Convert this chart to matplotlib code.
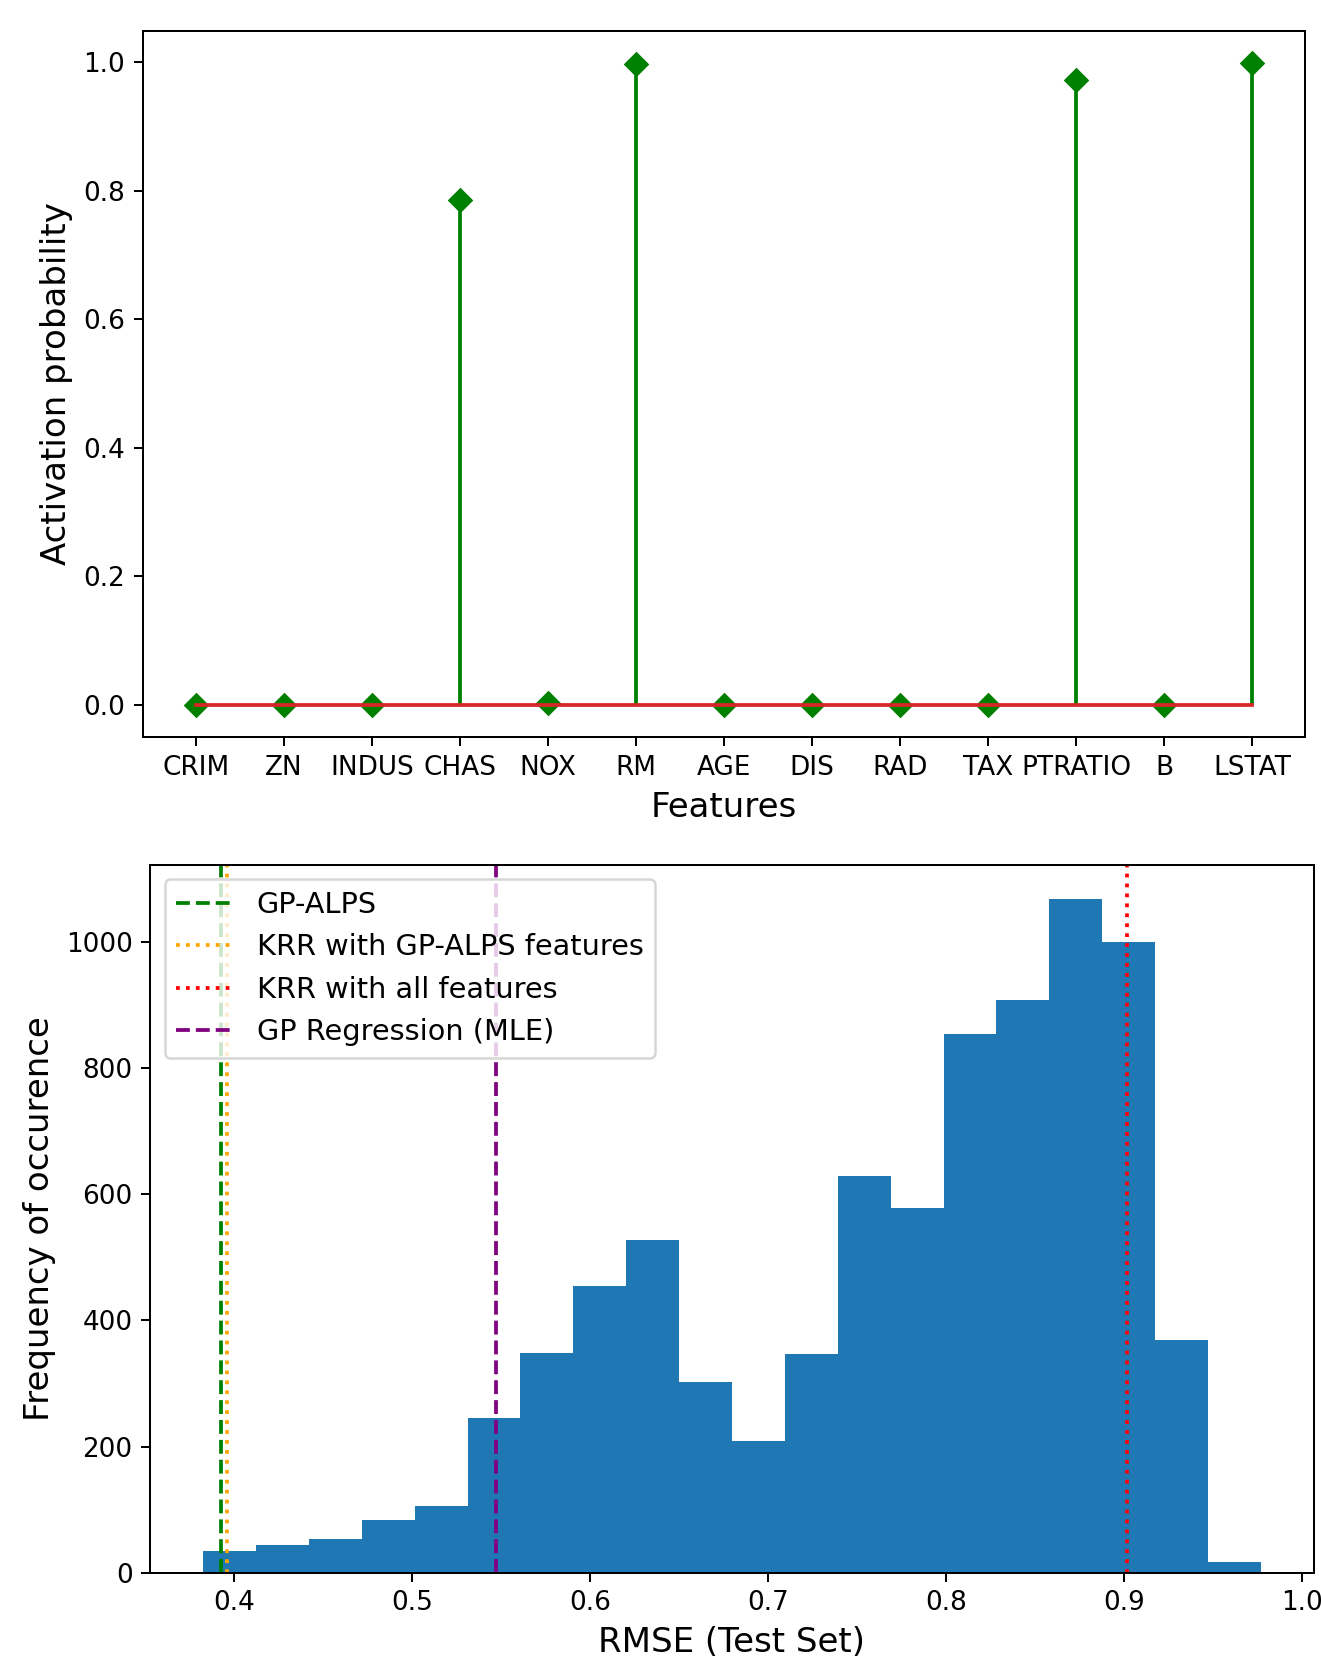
import numpy as np
import matplotlib
matplotlib.use("Agg")
import matplotlib.pyplot as plt

# feature activation probabilities (top panel)
features = ["CRIM", "ZN", "INDUS", "CHAS", "NOX", "RM", "AGE", "DIS",
            "RAD", "TAX", "PTRATIO", "B", "LSTAT"]
activation = [0.0, 0.0, 0.0, 0.785, 0.003, 0.997, 0.0, 0.0,
              0.0, 0.0, 0.973, 0.0, 0.999]

# RMSE histogram (bottom panel)
bin_lo, bin_hi = 0.3828, 0.9768
counts = [34, 44, 53, 84, 106, 245, 348, 454, 528, 302,
          209, 346, 628, 578, 853, 908, 1068, 1000, 368, 17]

# reference RMSE values
rmse_gp_alps = 0.3931
rmse_krr_alps = 0.3963
rmse_krr_all = 0.9016
rmse_gp_mle = 0.5472

W, H, DPI = 1321, 1659, 180
fig = plt.figure(figsize=(W / DPI, H / DPI), dpi=DPI)
plt.rcParams['font.size'] = 10.5
label_size = 13.6

# --- top: stem plot
ax1 = fig.add_axes([0.1081, 0.5557, 0.880, 0.4257])
x = np.arange(len(features))
markerline, stemlines, baseline = ax1.stem(x, activation, linefmt='g-', markerfmt='gD',
                                           basefmt='C3-')
markerline.set_zorder(2)
baseline.set_zorder(3)
ax1.set_xticks(x)
ax1.set_xticklabels(features, fontsize=10.5)
ax1.tick_params(labelsize=10.5)
ax1.set_xlabel("Features", fontsize=label_size)
ax1.set_ylabel("Activation probability", fontsize=label_size)

# --- bottom: histogram
ax2 = fig.add_axes([0.1137, 0.052, 0.8808, 0.4266])
edges = np.linspace(bin_lo, bin_hi, len(counts) + 1)
centers = (edges[:-1] + edges[1:]) / 2
ax2.hist(centers, bins=edges, weights=counts, color='C0')
ax2.axvline(rmse_gp_alps, color='g', linestyle='--', label='GP-ALPS')
ax2.axvline(rmse_krr_alps, color='orange', linestyle=':', label='KRR with GP-ALPS features')
ax2.axvline(rmse_krr_all, color='r', linestyle=':', label='KRR with all features')
ax2.axvline(rmse_gp_mle, color='purple', linestyle='--', label='GP Regression (MLE)')
ax2.tick_params(labelsize=10.5)
ax2.legend(loc='upper left', fontsize=11.5)
ax2.set_xlabel("RMSE (Test Set)", fontsize=label_size)
ax2.set_ylabel("Frequency of occurence", fontsize=label_size)

fig.savefig("out.png", dpi=DPI)
